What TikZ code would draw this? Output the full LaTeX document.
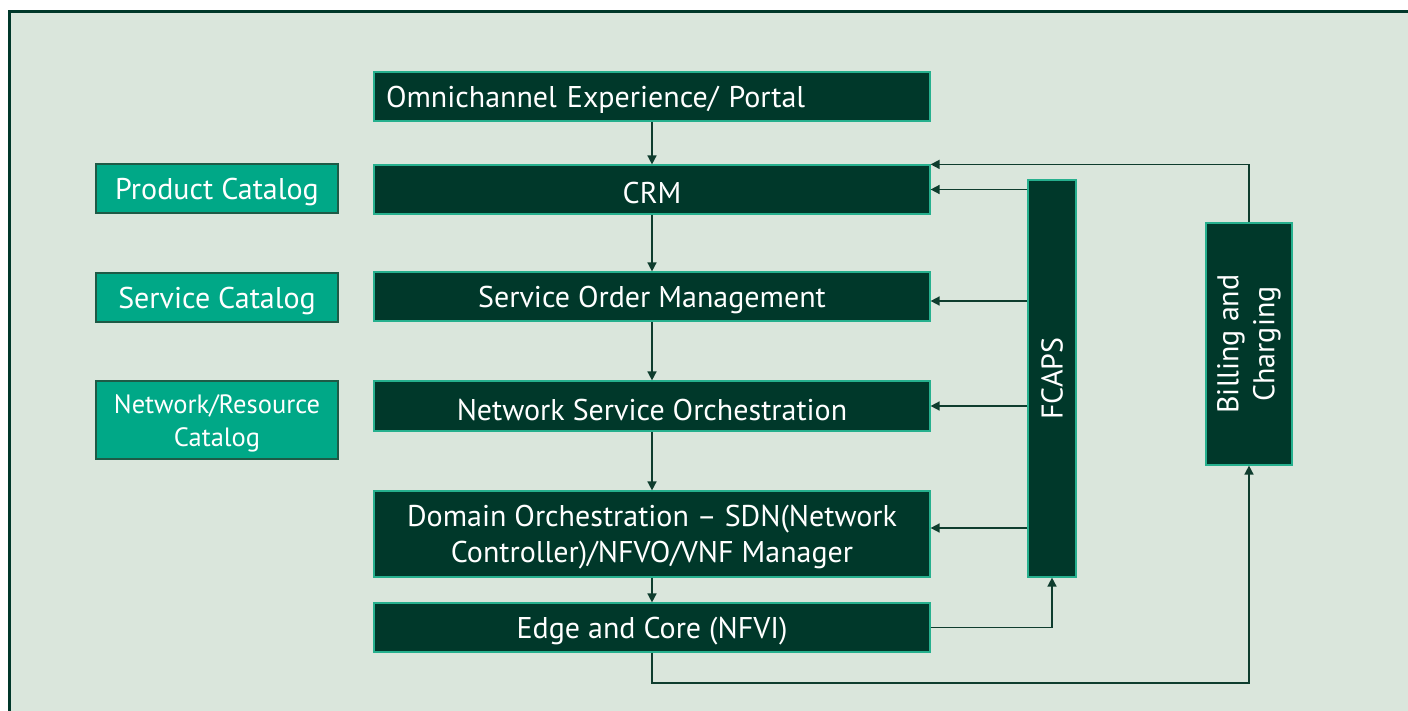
\documentclass[tikz,border=0pt]{standalone}
\usepackage{fontspec}
\setmainfont{PT Sans}
\usetikzlibrary{arrows.meta}
\definecolor{bgc}{HTML}{DAE6DC}
\definecolor{dk}{HTML}{00382A}
\definecolor{tealb}{HTML}{26B08E}
\definecolor{catf}{HTML}{00A887}
\definecolor{catb}{HTML}{1E5A46}
\definecolor{arr}{HTML}{0E3D2E}
\newcommand\dn[1]{\raisebox{-3.5pt}[\height][\depth]{#1}}
\newcommand\twol[2]{\dn{\begin{tabular}{@{}c@{}}#1\\#2\end{tabular}}}
\begin{document}
\begin{tikzpicture}[x=1pt,y=-1pt,
  mainbox/.style={draw=tealb,fill=dk,line width=1.2pt,text=white,font=\fontsize{30}{36}\selectfont,minimum width=556pt,inner sep=0pt,align=center},
  catbox/.style={draw=catb,fill=catf,line width=1.2pt,text=white,minimum width=242pt,inner sep=0pt,align=center},
  conn/.style={draw=arr,line width=1.6pt,-{Triangle[length=9pt,width=9pt]}}]
\useasboundingbox (0,0) rectangle (1408,711);
\begin{scope}
\clip (0,0) rectangle (1408,711);
\fill[bgc] (9.5,12) rectangle (1430,730);
\draw[dk,line width=3pt] (9.5,730) -- (9.5,12) -- (1430,12);
\end{scope}
\node[mainbox,minimum height=49pt,text width=532pt,align=left] (omni) at (652,96.5) {\dn{Omnichannel Experience/ Portal}};
\node[mainbox,minimum height=49pt] (crm) at (652,189.5) {\dn{CRM}};
\node[mainbox,minimum height=49pt] (som) at (652,296.5) {\dn{Service Order Management}};
\node[mainbox,minimum height=50pt] (nso) at (652,406) {\dn{Network Service Orchestration}};
\node[mainbox,minimum height=86pt] (dom) at (652,534) {\twol{Domain Orchestration – SDN(Network}{Controller)/NFVO/VNF Manager}};
\node[mainbox,minimum height=49pt] (edge) at (652,627.5) {\dn{Edge and Core (NFVI)}};
\node[catbox,minimum height=49pt,font=\fontsize{30}{36}\selectfont] (prod) at (217,188.5) {\dn{Product Catalog}};
\node[catbox,minimum height=49pt,font=\fontsize{30}{36}\selectfont] (svc) at (217,297.5) {\dn{Service Catalog}};
\node[catbox,minimum height=78pt,font=\fontsize{26.5}{33}\selectfont] (net) at (217,420) {\twol{Network/Resource}{Catalog}};
\node[mainbox,minimum width=48pt,minimum height=397pt] (fcaps) at (1052,378.5) {};
\node[text=white,rotate=90,font=\fontsize{30}{36}\selectfont] (fcapst) at (fcaps.center) {FCAPS};
\node[mainbox,minimum width=86pt,minimum height=242pt] (bill) at (1249,344) {};
\node[text=white,rotate=90,align=center,font=\fontsize{30}{36}\selectfont] (billt) at (bill.center) {Billing and\\Charging};
\draw[conn] (omni) -- (crm);
\draw[conn] (crm) -- (som);
\draw[conn] (som) -- (nso);
\draw[conn] (nso) -- (dom);
\draw[conn] (dom) -- (edge);
\draw[conn] (bill.north) |- (crm.north east);
\draw[conn] (fcaps.west |- crm.east) -- (crm.east);
\draw[conn] (fcaps.west |- 0,301) -- (som.east |- 0,301);
\draw[conn] (fcaps.west |- nso.east) -- (nso.east);
\draw[conn] (fcaps.west |- 0,528) -- (dom.east |- 0,528);
\draw[conn] (edge.east) -| (fcaps.south);
\coordinate (low) at (652,683);
\draw[conn] (edge.south) -- (low) -| (bill.south);
\end{tikzpicture}
\end{document}
